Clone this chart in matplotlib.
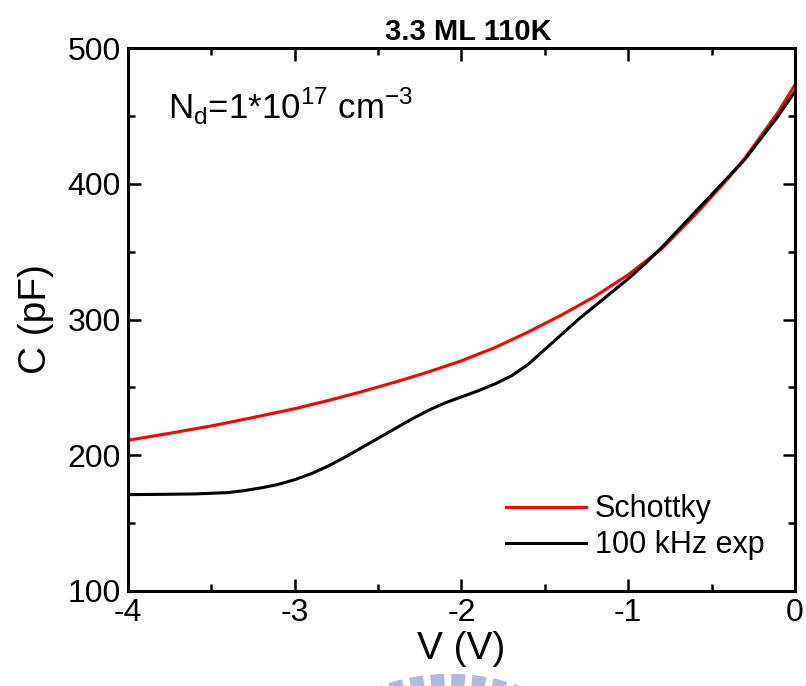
import matplotlib
matplotlib.use("Agg")
import matplotlib.pyplot as plt
from matplotlib.patches import Arc
from matplotlib.ticker import MultipleLocator

plt.rcParams['font.family'] = ['Liberation Sans', 'DejaVu Sans']
plt.rcParams['mathtext.fontset'] = 'custom'
plt.rcParams['mathtext.rm'] = 'Liberation Sans'
plt.rcParams['axes.unicode_minus'] = False

# Schottky model capacitance
v_schottky = [-4.0, -3.75, -3.5, -3.25, -3.0, -2.8, -2.6, -2.4, -2.2, -2.0,
              -1.8, -1.6, -1.4, -1.2, -1.0, -0.8, -0.6, -0.5, -0.4, -0.3,
              -0.2, -0.1, 0.0]
c_schottky = [211, 216.2, 221.6, 227.8, 234.3, 240.3, 246.8, 253.8, 261.3, 269.6,
              279.3, 290.8, 303.3, 317, 333, 352, 377, 390.5, 404, 419,
              436, 453, 473]

# Measured C-V at 100 kHz
v_exp = [-4.0, -3.8, -3.6, -3.4, -3.3, -3.2, -3.1, -3.0, -2.9, -2.8, -2.7,
         -2.6, -2.5, -2.4, -2.3, -2.2, -2.1, -2.0, -1.9, -1.8, -1.7, -1.6,
         -1.5, -1.4, -1.3, -1.2, -1.1, -1.0, -0.9, -0.8, -0.7, -0.6, -0.5,
         -0.4, -0.3, -0.2, -0.1, 0.0]
c_exp = [171, 171.2, 171.5, 172.5, 174, 176, 178.5, 182, 186.5, 192, 198.5,
         205.5, 212.5, 219.5, 226.5, 233, 238.5, 243, 247.5, 252.5, 258.5, 267,
         278, 289, 300, 310, 320, 330, 341, 353, 366, 379, 392,
         405, 418, 434, 450, 468]

fig = plt.figure(figsize=(8.06, 6.86), dpi=100)
ax = fig.add_axes([128/806, 1 - 591/686, (795-128)/806, (591-48)/686])

ax.plot(v_schottky, c_schottky, color='#ff0000', lw=2.2, label='Schottky')
ax.plot(v_exp, c_exp, color='black', lw=2.2, label='100 kHz exp')

ax.set_xlim(-4, 0)
ax.set_ylim(100, 500)
ax.xaxis.set_major_locator(MultipleLocator(1))
ax.xaxis.set_minor_locator(MultipleLocator(0.5))
ax.yaxis.set_major_locator(MultipleLocator(100))
ax.yaxis.set_minor_locator(MultipleLocator(50))
ax.tick_params(which='both', direction='in', top=True, right=True, width=1.8,
               labelsize=23, pad=5)
ax.tick_params(which='major', length=9)
ax.tick_params(which='minor', length=5)
for s in ax.spines.values():
    s.set_linewidth(2.2)

ax.set_xlabel('V (V)', fontsize=28, labelpad=2)
ax.set_ylabel('C (pF)', fontsize=28, labelpad=10)
ax.set_title('3.3 ML 110K', fontsize=21, fontweight='bold', pad=6, x=0.51)

ax.text(0.06, 0.93,
        r'N$_\mathregular{d}$=1*10$^\mathregular{17}$ cm$^\mathregular{-3}$',
        transform=ax.transAxes, fontsize=25, va='top', ha='left')

ax.legend(loc='lower right', fontsize=22, frameon=False, handlelength=2.6,
          handletextpad=0.3, labelspacing=0.2, borderaxespad=0.6)

# faint logo arc beneath the axis label
arc = Arc((450/806, 1 - 880/686), 2*200/806, 2*200/686, theta1=71, theta2=109,
          transform=fig.transFigure, color='#aebbde', lw=9,
          linestyle=(0, (1.1, 0.55)), clip_on=False)
fig.add_artist(arc)

fig.savefig('out.png', dpi=100)
